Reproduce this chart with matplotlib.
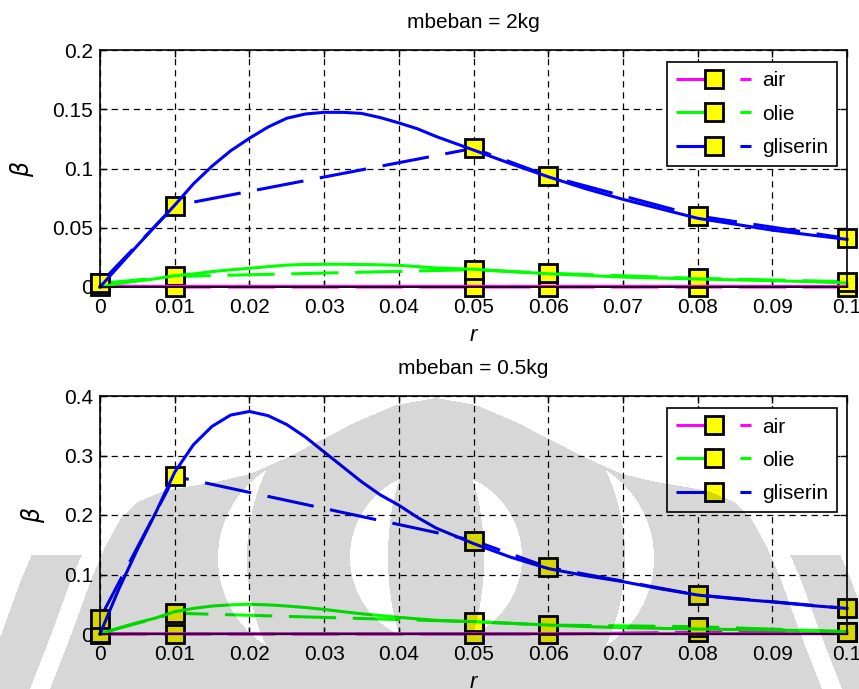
import numpy as np
import matplotlib
matplotlib.use("Agg")
import matplotlib.pyplot as plt

plt.rcParams['font.family'] = ['Liberation Sans', 'DejaVu Sans']
plt.rcParams['lines.scale_dashes'] = False

# measured points
r_exp = [0, 0.01, 0.05, 0.06, 0.08, 0.1]
# simulated curves
r_sim = [0, 0.0025, 0.005, 0.0075, 0.01, 0.0125, 0.015, 0.0175, 0.02, 0.0225,
         0.025, 0.0275, 0.03, 0.0325, 0.035, 0.0375, 0.04, 0.0425, 0.045, 0.05,
         0.055, 0.06, 0.065, 0.07, 0.075, 0.08, 0.085, 0.09, 0.095, 0.1]

# mbeban = 2kg
exp_air_2 = [0.001, 0.0, 0.0, 0.0, 0.0, 0.0]
exp_olie_2 = [0.003, 0.0089, 0.0146, 0.0116, 0.0073, 0.0045]
exp_glis_2 = [0.003, 0.0686, 0.117, 0.0937, 0.060, 0.041]
sim_air_2 = [0.0] + [0.0005] * 29
sim_olie_2 = [0.0, 0.003, 0.005, 0.007, 0.0095, 0.011, 0.013, 0.0145, 0.0158, 0.0172,
              0.0185, 0.019, 0.0192, 0.0192, 0.019, 0.0187, 0.0183, 0.0172, 0.016, 0.015,
              0.013, 0.0112, 0.0098, 0.0084, 0.0075, 0.0068, 0.006, 0.0053, 0.0045, 0.0034]
sim_glis_2 = [0.0, 0.0175, 0.035, 0.052, 0.069, 0.087, 0.102, 0.115, 0.1255, 0.135,
              0.1424, 0.146, 0.1474, 0.1474, 0.1465, 0.143, 0.1385, 0.1335, 0.127, 0.1156,
              0.104, 0.093, 0.083, 0.074, 0.066, 0.058, 0.053, 0.048, 0.044, 0.0402]

# mbeban = 0.5kg
exp_air_05 = [0.0, 0.0, 0.0, 0.0, 0.003, 0.003]
exp_olie_05 = [0.001, 0.035, 0.0207, 0.015, 0.0123, 0.004]
exp_glis_05 = [0.026, 0.265, 0.157, 0.112, 0.0655, 0.043]
sim_air_05 = [0.0] + [0.0005] * 29
sim_olie_05 = [0.0, 0.010, 0.019, 0.027, 0.0375, 0.043, 0.047, 0.049, 0.050, 0.049,
               0.047, 0.0445, 0.0414, 0.0375, 0.034, 0.031, 0.028, 0.0255, 0.023, 0.0207,
               0.018, 0.015, 0.0125, 0.0106, 0.0095, 0.0084, 0.0075, 0.0067, 0.0055, 0.004]
sim_glis_05 = [0.0, 0.075, 0.142, 0.205, 0.272, 0.318, 0.349, 0.368, 0.374, 0.367,
               0.352, 0.331, 0.306, 0.281, 0.256, 0.234, 0.2165, 0.196, 0.178, 0.152,
               0.129, 0.110, 0.098, 0.088, 0.076, 0.0655, 0.059, 0.054, 0.048, 0.043]

labels = ['air', 'olie', 'gliserin']
colors = ['#ff00ff', '#00ff00', '#0000ff']

panels = [
    ("mbeban = 2kg", [exp_air_2, exp_olie_2, exp_glis_2],
     [sim_air_2, sim_olie_2, sim_glis_2], [0, 0.05, 0.1, 0.15, 0.2], ['0', '0.05', '0.1', '0.15', '0.2']),
    ("mbeban = 0.5kg", [exp_air_05, exp_olie_05, exp_glis_05],
     [sim_air_05, sim_olie_05, sim_glis_05], [0, 0.1, 0.2, 0.3, 0.4], ['0', '0.1', '0.2', '0.3', '0.4']),
]

W, H = 859, 689
fig = plt.figure(figsize=(W / 100, H / 100), dpi=100)
boxes = [(100, 50, 847, 287), (100, 396, 847, 634)]

xticks = [0, 0.01, 0.02, 0.03, 0.04, 0.05, 0.06, 0.07, 0.08, 0.09, 0.1]
xticklabels = ['0', '0.01', '0.02', '0.03', '0.04', '0.05', '0.06', '0.07', '0.08', '0.09', '0.1']
FS = 15

for (title, exps, sims, yt, ytl), (x0, y0, x1, y1) in zip(panels, boxes):
    ax = fig.add_axes([x0 / W, 1 - y1 / H, (x1 - x0) / W, (y1 - y0) / H])
    ax.set_facecolor('none')
    for e, c, lab in zip(exps, colors, labels):
        ax.plot(r_exp, e, color=c, lw=2.2, dashes=(34, 12), marker='s', ms=13,
                mfc='#ffff00', mec='#000000', mew=2, label=lab, clip_on=False)
    for s, c in zip(sims, colors):
        ax.plot(r_sim, s, color=c, lw=2.2, clip_on=False)
    ax.set_xlim(0, 0.1)
    ax.set_ylim(yt[0], yt[-1])
    ax.set_xticks(xticks)
    ax.set_xticklabels(xticklabels, fontsize=FS)
    ax.set_yticks(yt)
    ax.set_yticklabels(ytl, fontsize=FS)
    ax.tick_params(direction='in', top=True, right=True, length=5, width=1)
    ax.tick_params(axis='x', pad=8)
    ax.tick_params(axis='y', pad=5)
    ax.grid(True, color='black', linestyle=(0, (4.5, 3.5)), linewidth=0.9)
    for sp in ax.spines.values():
        sp.set_linewidth(1.2)
    ax.set_title(title, fontsize=FS, pad=16)
    ax.set_xlabel('r', fontsize=FS + 1, style='italic', labelpad=6)
    ax.set_ylabel(r'$\beta$', fontsize=FS + 2, labelpad=12)
    leg = ax.legend(loc='upper right', bbox_to_anchor=(0.987, 0.949), borderaxespad=0,
                    fontsize=FS, handlelength=3.6, labelspacing=0.68, handletextpad=0.5,
                    fancybox=False, framealpha=1, edgecolor='black', borderpad=0.45)
    leg.get_frame().set_linewidth(1.2)

# light gray logo watermark over the lower panel
yy, xx = np.mgrid[0:H, 0:W] + 0.5
dx = np.abs(xx - 436)
prof_dx = [0, 40, 80, 111, 150, 186, 220, 250, 275, 298, 316, 330, 345, 365, 386, 420]
prof_y = [398, 405, 422, 438, 458, 474, 482, 487, 492, 502, 520, 545, 580, 635, 689, 780]
xb = np.interp(yy, prof_y, prof_dx)
main = (yy >= 398) & (dx <= xb)
band = (yy >= 555) & (dx >= xb + 20) & (dx <= xb + 70)
c1 = (((xx - 436) ** 2 + (yy - 557) ** 2) <= 86 ** 2) & \
     ((((xx - 436) / 48) ** 2 + ((yy - 557) / 120) ** 2) > 1)
c2 = ((((xx - 322) ** 2 + (yy - 558) ** 2) <= 104 ** 2) |
      (((xx - 550) ** 2 + (yy - 558) ** 2) <= 104 ** 2)) & \
     ((((xx - 436) / 189) ** 2 + ((yy - 558) / 200) ** 2) > 1)
mask = (main | band) & ~c1 & ~c2
rgba = np.zeros((H, W, 4))
rgba[..., 3] = np.where(mask, 0.157, 0.0)
fig.figimage(rgba, xo=0, yo=0, origin='upper', zorder=10)

fig.savefig('out.png', dpi=100)
